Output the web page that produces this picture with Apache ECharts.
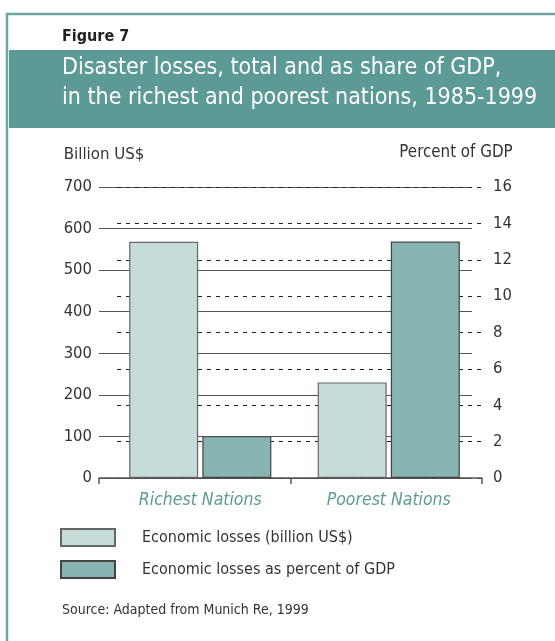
<!DOCTYPE html>
<html><head><meta charset="utf-8">
<script src="https://cdn.jsdelivr.net/npm/echarts@6/dist/echarts.min.js"></script>
<style>html,body{margin:0;padding:0;background:#fff}#c{width:555px;height:641px}</style>
</head><body><div id="c"></div>
<script>
var categories = ['Richest Nations', 'Poorest Nations'];
var lossesBillion = [568, 230];
var lossesPctGDP = [2.3, 13];
var leftAxis = {min: 0, max: 700, interval: 100};
var rightAxis = {min: 0, max: 16, interval: 2};
var seriesNames = ['Economic losses (billion US$)', 'Economic losses as percent of GDP'];
var figureLabel = 'Figure 7';
var titleText = 'Disaster losses, total and as share of GDP,\nin the richest and poorest nations, 1985-1999';
var sourceText = 'Source: Adapted from Munich Re, 1999';

var FONT = "'Liberation Sans Narrow', 'DejaVu Sans Condensed', sans-serif";
var TEAL = '#5c9a95';
var TXT = '#333';
var chart = echarts.init(document.getElementById('c'));
var gTop = 187, gBottom = 641 - 478;
function hiddenX(g){return {type:'category', gridIndex:g, data:categories, show:false};}
function hiddenY(g, a){return {type:'value', gridIndex:g, min:a.min, max:a.max, interval:a.interval, show:false};}

chart.setOption({
  animation: false,
  textStyle: {fontFamily: FONT},
  graphic: [
    {type:'rect', shape:{x:7, y:14, width:560, height:640}, style:{fill:'none', stroke:'#6fa6a1', lineWidth:2.5}, silent:true},
    {type:'rect', shape:{x:9, y:50, width:546, height:78}, style:{fill:TEAL}, silent:true}
  ],
  title: [
    {text: figureLabel, left: 62, top: 29, padding:0, textStyle:{fontFamily:FONT, fontSize:16, fontWeight:'bold', color:'#222'}},
    {text: titleText, left: 62, top: 53, padding:0, textStyle:{fontFamily:FONT, fontSize:23, fontWeight:'normal', color:'#fff', lineHeight:30}},
    {text: sourceText, left: 62, top: 603, padding:0, textStyle:{fontFamily:FONT, fontSize:14, fontWeight:'normal', color:TXT}}
  ],
  legend: {
    orient:'vertical', left: 60, top: 528, padding: 0, itemWidth: 54, itemHeight: 17, itemGap: 13,
    icon: 'rect', data: seriesNames,
    textStyle: {fontFamily:FONT, fontSize:16, color:TXT, padding:[0,0,0,22]}
  },
  grid: [
    {left: 99, right: 555-472, top: gTop, bottom: gBottom},
    {left: 117, right: 555-483, top: gTop, bottom: gBottom},
    {left: 99, right: 555-482, top: gTop, bottom: gBottom},
    {left: 106, right: 72, top: gTop, bottom: gBottom}
  ],
  xAxis: [
    hiddenX(0), hiddenX(1),
    {type:'category', gridIndex:2, data:categories, boundaryGap:true,
     axisLine:{show:true, lineStyle:{color:'#555', width:1.5}},
     axisTick:{show:true, length:6, interval:0, alignWithLabel:false, lineStyle:{color:'#555', width:1.5}},
     axisLabel:{show:false}, splitLine:{show:false}},
    {type:'category', gridIndex:3, data:categories,
     axisLine:{show:false}, axisTick:{show:false},
     axisLabel:{show:true, margin:13, fontFamily:FONT, fontSize:17.5, fontStyle:'italic', color:TEAL},
     splitLine:{show:false}}
  ],
  yAxis: [
    {type:'value', gridIndex:0, position:'left', min:leftAxis.min, max:leftAxis.max, interval:leftAxis.interval,
     name:'Billion US$', nameLocation:'end', nameGap:32,
     nameTextStyle:{fontFamily:FONT, fontSize:16.7, color:TXT, align:'center', verticalAlign:'middle', padding:[0,0,0,10]},
     axisLine:{show:false}, axisTick:{show:false},
     axisLabel:{margin:7, fontFamily:FONT, fontSize:16.5, color:TXT},
     splitLine:{show:true, lineStyle:{color:'#555', width:1.2, type:'solid'}}},
    {type:'value', gridIndex:1, position:'right', min:rightAxis.min, max:rightAxis.max, interval:rightAxis.interval,
     name:'Percent of GDP', nameLocation:'end', nameGap:34,
     nameTextStyle:{fontFamily:FONT, fontSize:16.8, color:TXT, align:'center', verticalAlign:'middle', padding:[0,54,0,0]},
     axisLine:{show:false}, axisTick:{show:false},
     axisLabel:{margin:10, fontFamily:FONT, fontSize:16.5, color:TXT},
     splitLine:{show:true, lineStyle:{color:'#222', width:1, type:[4,5]}}},
    hiddenY(2, leftAxis),
    hiddenY(3, leftAxis),
    hiddenY(3, rightAxis)
  ],
  series: [
    {name: seriesNames[0], type:'bar', xAxisIndex:3, yAxisIndex:3, data: lossesBillion,
     barWidth:69, barGap:'6%',
     itemStyle:{color:'#c5dcd9', borderColor:'#666', borderWidth:1.2}},
    {name: seriesNames[1], type:'bar', xAxisIndex:3, yAxisIndex:4, data: lossesPctGDP,
     barWidth:69, barGap:'6%',
     itemStyle:{color:'#87b3b0', borderColor:'#444', borderWidth:1.2}}
  ]
});
</script></body></html>
